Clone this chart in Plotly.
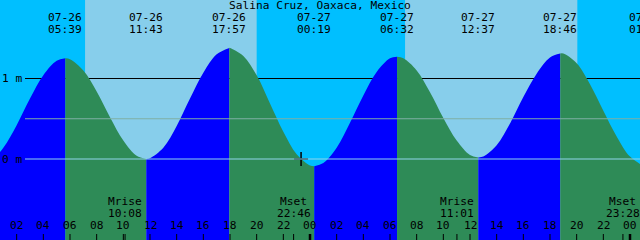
import plotly.graph_objects as go

# ---------------- data (hours since 07-26 00:00) ----------------
title = "Salina Cruz, Oaxaca, Mexico"

ext_hours = [-0.67, 5.65, 11.72, 17.95, 24.32, 30.53, 36.62, 42.77, 49.17]
ext_heights = [-0.08, 1.25, 0.00, 1.38, -0.09, 1.27, 0.02, 1.31, -0.08]
ext_dates = ["07-25", "07-26", "07-26", "07-26", "07-27", "07-27", "07-27", "07-27", "07-28"]
ext_times = ["23:20", "05:39", "11:43", "17:57", "00:19", "06:32", "12:37", "18:46", "01:10"]

sample_hours = list(range(0, 50))
sample_heights = [-0.04, 0.14, 0.42, 0.75, 1.04, 1.22,
                  1.24, 1.10, 0.84, 0.52, 0.23, 0.04,
                  0.01, 0.14, 0.41, 0.75, 1.07, 1.30,
                  1.38, 1.28, 1.04, 0.69, 0.34, 0.06,
                  -0.08, -0.05, 0.14, 0.45, 0.79, 1.08,
                  1.25, 1.25, 1.10, 0.83, 0.51, 0.23,
                  0.05, 0.03, 0.17, 0.44, 0.77, 1.06,
                  1.26, 1.31, 1.19, 0.93, 0.60, 0.28,
                  0.03, -0.08]

day_start = [7.13, 31.13]
day_end = [20.0, 44.05]

moon_hours = [10.13, 22.77, 35.02, 47.47]
moon_kind = ["Mrise", "Mset", "Mrise", "Mset"]
moon_times = ["10:08", "22:46", "11:01", "23:28"]

tick_hours = list(range(2, 49, 2))
midnight_hours = [24, 48]
now_hour = 23.33
level_marks = [1.0, 0.0]
level_labels = ["1 m", "0 m"]
msl_level = 0.5

X_RANGE = [0.75, 48.75]
Y_RANGE = [-1.006, 1.975]

NIGHT = "#00BFFF"
DAY = "#87CEEB"
RISE = "#0000FF"
FALL = "#2E8B57"
FONT = "DejaVu Sans Mono"
FS = 11.2


def px(h):
    """hour -> paper x fraction via the axis range"""
    return (h - X_RANGE[0]) / (X_RANGE[1] - X_RANGE[0])


fig = go.Figure()

# tide segments (rising blue, falling green)
for i in range(len(ext_hours) - 1):
    t0, t1 = ext_hours[i], ext_hours[i + 1]
    inner = [h for h in sample_hours if t0 < h < t1]
    xs = [t0] + inner + [t1]
    ys = [ext_heights[i]] + [sample_heights[sample_hours.index(h)] for h in inner] + [ext_heights[i + 1]]
    color = RISE if ext_heights[i + 1] > ext_heights[i] else FALL
    fig.add_trace(go.Scatter(x=xs, y=[Y_RANGE[0] - 0.2] * len(xs), mode="lines",
                             line=dict(width=0, color=color), hoverinfo="skip", showlegend=False))
    fig.add_trace(go.Scatter(x=xs, y=ys, mode="lines", line=dict(width=0, color=color, shape="spline"),
                             fill="tonexty", fillcolor=color, hoverinfo="skip", showlegend=False))

# now marker
fig.add_trace(go.Scatter(x=[now_hour], y=[0.0], mode="markers",
                         marker=dict(symbol="cross-thin", size=10, line=dict(width=1.5, color="black")),
                         hoverinfo="skip", showlegend=False))

shapes = []
for a, b in zip(day_start, day_end):
    shapes.append(dict(type="rect", xref="x", yref="paper", x0=a, x1=b, y0=0, y1=1,
                       fillcolor=DAY, line=dict(width=0), layer="below"))
# 1 m depth line (behind tide)
shapes.append(dict(type="line", xref="paper", yref="y", x0=25 / 640, x1=1, y0=level_marks[0], y1=level_marks[0],
                   line=dict(color="black", width=1), layer="below"))
# msl and datum lines over tide
shapes.append(dict(type="line", xref="paper", yref="y", x0=25 / 640, x1=1, y0=msl_level, y1=msl_level,
                   line=dict(color="#7FAFA4", width=1), layer="above"))
shapes.append(dict(type="line", xref="paper", yref="y", x0=25 / 640, x1=1, y0=level_marks[1], y1=level_marks[1],
                   line=dict(color="#90D4EC", width=1), layer="above"))

# bottom ticks
for h in tick_hours:
    w = 2.5 if h in midnight_hours else 1
    shapes.append(dict(type="line", xref="x", yref="paper", x0=h, x1=h, y0=0, y1=6 / 240,
                       line=dict(color="black", width=w), layer="above"))
for h in moon_hours:
    shapes.append(dict(type="line", xref="x", yref="paper", x0=h, x1=h, y0=0, y1=6 / 240,
                       line=dict(color="black", width=1), layer="above"))

font = dict(family=FONT, size=FS, color="black")
ann = []
ann.append(dict(text=title, x=0.5, y=1 - 5.5 / 240, xref="paper", yref="paper", showarrow=False,
                xanchor="center", yanchor="middle", font=font))
# label extremes from the first one inside the window onward
for h, d, t in zip(ext_hours, ext_dates, ext_times):
    if h < X_RANGE[0]:
        continue
    ann.append(dict(text=d, x=px(h), y=1 - 17.5 / 240, xref="paper", yref="paper", showarrow=False,
                    xanchor="center", yanchor="middle", font=font))
    ann.append(dict(text=t, x=px(h), y=1 - 29.5 / 240, xref="paper", yref="paper", showarrow=False,
                    xanchor="center", yanchor="middle", font=font))
for h, k, t in zip(moon_hours, moon_kind, moon_times):
    ann.append(dict(text=k, x=px(h), y=1 - 201.5 / 240, xref="paper", yref="paper", showarrow=False,
                    xanchor="center", yanchor="middle", font=font))
    ann.append(dict(text=t, x=px(h), y=1 - 213 / 240, xref="paper", yref="paper", showarrow=False,
                    xanchor="center", yanchor="middle", font=font))
for h in tick_hours:
    ann.append(dict(text=f"{h % 24:02d}", x=px(h), y=1 - 225 / 240, xref="paper", yref="paper", showarrow=False,
                    xanchor="center", yanchor="middle", font=font))
for lv, lb in zip(level_marks, level_labels):
    ann.append(dict(text=lb, x=0, y=lv, xref="paper", yref="y", showarrow=False,
                    xanchor="left", yanchor="middle", font=font))

fig.update_layout(
    width=640, height=240, margin=dict(l=0, r=0, t=0, b=0),
    paper_bgcolor=NIGHT, plot_bgcolor=NIGHT,
    xaxis=dict(range=X_RANGE, visible=False, fixedrange=True),
    yaxis=dict(range=Y_RANGE, visible=False, fixedrange=True),
    shapes=shapes, annotations=ann, showlegend=False,
)

fig.write_html("out.html", config={"displayModeBar": False})
